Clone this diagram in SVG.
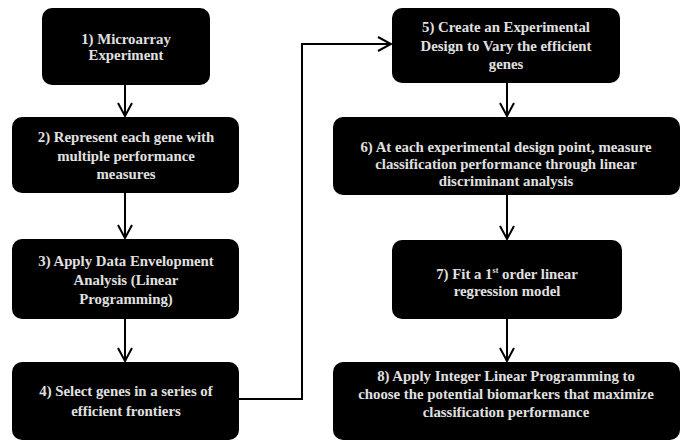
<svg xmlns="http://www.w3.org/2000/svg" width="683" height="441" viewBox="0 0 683 441">
<defs>
<style>
.box{fill:#000;}
.t{font-family:"Liberation Serif","DejaVu Serif",serif;font-weight:bold;font-size:14.8px;fill:#e0e0e0;text-anchor:middle;}
.c{fill:none;stroke:#000;stroke-width:2;}
</style>
<marker id="v" viewBox="0 0 16 16" refX="14" refY="8" markerWidth="16" markerHeight="16" markerUnits="userSpaceOnUse" orient="auto">
<path d="M1,1 L14,8 L1,15" fill="none" stroke="#000" stroke-width="2"/>
</marker>
</defs>
<rect width="683" height="441" fill="#fff"/>
<g id="connectors">
<line class="c" x1="125" y1="85" x2="125" y2="116" marker-end="url(#v)"/>
<line class="c" x1="125" y1="193" x2="125" y2="238" marker-end="url(#v)"/>
<line class="c" x1="125" y1="319" x2="125" y2="361" marker-end="url(#v)"/>
<polyline class="c" points="239,399 302,399 302,44 391,44" marker-end="url(#v)"/>
<line class="c" x1="507" y1="83" x2="507" y2="116" marker-end="url(#v)"/>
<line class="c" x1="507" y1="195" x2="507" y2="239" marker-end="url(#v)"/>
<line class="c" x1="507" y1="319" x2="507" y2="361" marker-end="url(#v)"/>
</g>
<g id="n1"><rect class="box" x="42" y="8" width="168" height="77" rx="10"/>
<text class="t" x="126" y="44">1) Microarray</text><text class="t" x="126" y="60">Experiment</text></g>
<g id="n2"><rect class="box" x="12" y="117" width="227" height="76" rx="10"/>
<text class="t" x="126" y="142">2) Represent each gene with</text><text class="t" x="126" y="161">multiple performance</text><text class="t" x="126" y="179">measures</text></g>
<g id="n3"><rect class="box" x="12" y="239" width="227" height="80" rx="10"/>
<text class="t" x="126" y="266">3) Apply Data Envelopment</text><text class="t" x="126" y="285">Analysis (Linear</text><text class="t" x="126" y="304">Programming)</text></g>
<g id="n4"><rect class="box" x="12" y="362" width="227" height="78" rx="10"/>
<text class="t" x="126" y="396">4) Select genes in a series of</text><text class="t" x="126" y="416">efficient frontiers</text></g>
<g id="n5"><rect class="box" x="392" y="8" width="228" height="75" rx="10"/>
<text class="t" x="506" y="32">5) Create an Experimental</text><text class="t" x="506" y="51">Design to Vary the efficient</text><text class="t" x="506" y="69">genes</text></g>
<g id="n6"><rect class="box" x="333" y="117" width="347" height="78" rx="10"/>
<text class="t" x="506" y="152">6) At each experimental design point, measure</text><text class="t" x="506" y="169">classification performance through linear</text><text class="t" x="506" y="186">discriminant analysis</text></g>
<g id="n7"><rect class="box" x="392" y="240" width="230" height="79" rx="10"/>
<text class="t" x="507" y="279">7) Fit a 1<tspan font-size="8" dy="-6">st</tspan><tspan dy="6"> order linear</tspan></text><text class="t" x="507" y="296">regression model</text></g>
<g id="n8"><rect class="box" x="333" y="362" width="347" height="78" rx="10"/>
<text class="t" x="506" y="381">8) Apply Integer Linear Programming to</text><text class="t" x="506" y="399">choose the potential biomarkers that maximize</text><text class="t" x="506" y="417">classification performance</text></g>
</svg>
